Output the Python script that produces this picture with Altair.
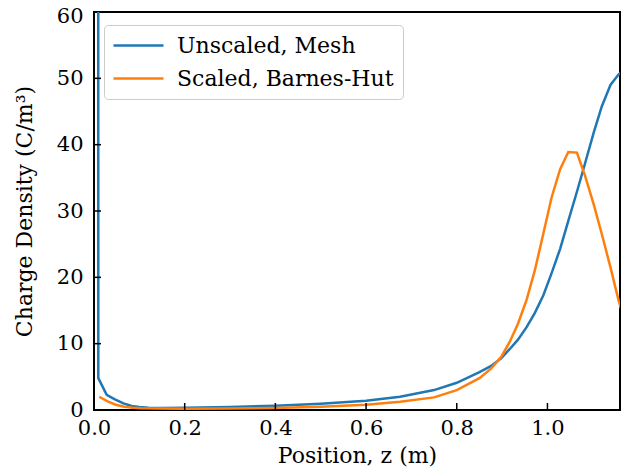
import altair as alt
import pandas as pd

# ---- data ----
mesh_z = [0.0093, 0.0095, 0.028, 0.046, 0.065, 0.083, 0.10, 0.12, 0.15, 0.2, 0.3, 0.4,
          0.5, 0.6, 0.675, 0.75, 0.8, 0.85, 0.875, 0.898, 0.917, 0.935, 0.954, 0.972,
          0.991, 1.009, 1.028, 1.046, 1.065, 1.083, 1.102, 1.12, 1.139, 1.157, 1.176]
mesh_v = [80, 4.8, 2.3, 1.6, 1.0, 0.6, 0.45, 0.35, 0.3, 0.35, 0.45, 0.65,
          0.95, 1.4, 2.0, 3.0, 4.1, 5.7, 6.6, 7.8, 9.2, 10.6, 12.5, 14.6,
          17.3, 20.6, 24.3, 28.5, 32.9, 37.2, 41.8, 45.8, 49.0, 50.6, 51.5]

bh_z = [0.0115, 0.03, 0.048, 0.067, 0.085, 0.104, 0.15, 0.2, 0.3, 0.4, 0.5, 0.6,
        0.675, 0.75, 0.8, 0.85, 0.875, 0.898, 0.917, 0.935, 0.954, 0.972, 0.991,
        1.009, 1.028, 1.046, 1.065, 1.083, 1.102, 1.12, 1.139, 1.157, 1.176]
bh_v = [2.0, 1.3, 0.8, 0.5, 0.35, 0.28, 0.22, 0.2, 0.22, 0.32, 0.5, 0.8,
        1.25, 1.9, 3.0, 4.8, 6.2, 8.0, 10.3, 13.0, 16.6, 21.0, 26.6,
        32.0, 36.3, 38.9, 38.8, 35.3, 31.0, 26.5, 21.5, 16.5, 12.2]

series_names = ["Unscaled, Mesh", "Scaled, Barnes-Hut"]
series_colors = ["#1f77b4", "#ff7f0e"]

x_ticks = [0.0, 0.2, 0.4, 0.6, 0.8, 1.0]
y_ticks = [0, 10, 20, 30, 40, 50, 60]
x_domain = [0, 1.16]
y_domain = [0, 60]

rows = []
for z, v in zip(mesh_z, mesh_v):
    rows.append({"z": z, "v": v, "series": series_names[0], "o": 0})
for z, v in zip(bh_z, bh_v):
    rows.append({"z": z, "v": v, "series": series_names[1], "o": 1})
df = pd.DataFrame(rows)

FONT = "DejaVu Serif"
W, H = 526, 398

xscale = alt.Scale(domain=x_domain, nice=False, zero=False)
yscale = alt.Scale(domain=y_domain, nice=False)

xaxis = alt.Axis(values=x_ticks, format=".1f", title="Position, z (m)",
                 ticks=False, grid=False, domain=False, labelFlush=False,
                 labelPadding=7, titlePadding=7)
yaxis = alt.Axis(values=y_ticks, format="d", title="Charge Density (C/m³)",
                 ticks=False, grid=False, domain=False, labelFlush=False,
                 labelPadding=11, titlePadding=20,
                 labelOffset={"condition": {"test": "datum.value == 60", "value": 4},
                              "value": 0})

lines = alt.Chart(df).mark_line(clip=True, strokeWidth=2.5).encode(
    x=alt.X("z:Q", scale=xscale, axis=xaxis),
    y=alt.Y("v:Q", scale=yscale, axis=yaxis),
    color=alt.Color("series:N",
                    scale=alt.Scale(domain=series_names, range=series_colors),
                    legend=alt.Legend(title=None, orient="none", legendX=10, legendY=13,
                                      symbolType="M-2.5,0H2.5", symbolSize=400,
                                      symbolStrokeWidth=2.5, symbolOffset=14,
                                      labelOffset=27, labelFont=FONT, labelFontSize=22,
                                      labelColor="#000000", rowPadding=10,
                                      padding=9, fillColor="white", strokeColor="#cccccc",
                                      cornerRadius=4, labelLimit=400)),
    order="o:Q",
    detail="series:N",
)

xt = pd.DataFrame({"z": x_ticks[1:]})
yt = pd.DataFrame({"v": y_ticks[1:-1]})

xtick_rules = alt.Chart(xt).mark_rule(color="black", strokeWidth=1.5).encode(
    x=alt.X("z:Q", scale=xscale, axis=xaxis),
    y=alt.value(H), y2=alt.value(H - 7),
)
ytick_rules = alt.Chart(yt).mark_rule(color="black", strokeWidth=1.5).encode(
    y=alt.Y("v:Q", scale=yscale, axis=yaxis),
    x=alt.value(0), x2=alt.value(7),
)

chart = alt.layer(lines, xtick_rules, ytick_rules).properties(
    width=W, height=H,
    autosize=alt.AutoSizeParams(type="none"),
    padding={"left": 86, "top": 4, "right": 4, "bottom": 58},
).configure_view(
    stroke="black", strokeWidth=2,
).configure_axis(
    labelFont=FONT, labelFontSize=21, labelColor="black",
    titleFont=FONT, titleFontSize=22, titleFontWeight="normal", titleColor="black",
)

chart.save("out.html", embed_options={"renderer": "svg", "actions": False})
